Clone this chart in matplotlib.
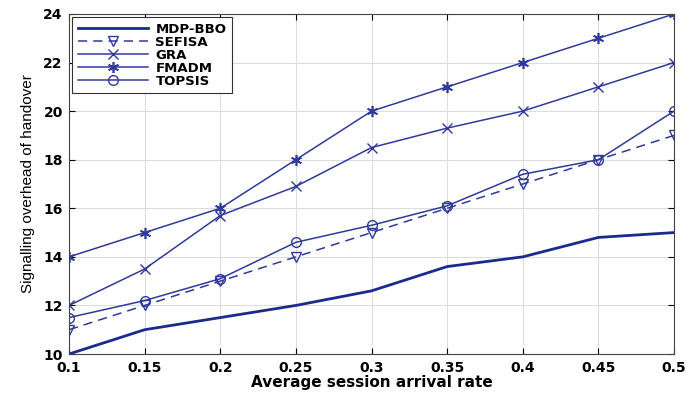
import matplotlib

matplotlib.use("Agg")
import matplotlib.pyplot as plt

X = [0.1, 0.15, 0.2, 0.25, 0.3, 0.35, 0.4, 0.45, 0.5]
MDP_BBO = [10, 11, 11.5, 12, 12.6, 13.6, 14, 14.8, 15]
SEFISA = [11, 12, 13, 14, 15, 16, 17, 18, 19]
GRA = [12, 13.5, 15.7, 16.9, 18.5, 19.3, 20, 21, 22]
FMADM = [14, 15, 16, 18, 20, 21, 22, 23, 24]
TOPSIS = [11.5, 12.2, 13.1, 14.6, 15.3, 16.1, 17.4, 18, 20]

XTICKS = [0.1, 0.15, 0.2, 0.25, 0.3, 0.35, 0.4, 0.45, 0.5]
XTICKLABELS = ["0.1", "0.15", "0.2", "0.25", "0.3", "0.35", "0.4", "0.45", "0.5"]
YTICKS = [10, 12, 14, 16, 18, 20, 22, 24]

BLUE = "#2f3a9a"
NAVY = "#1c2a8e"

plt.rcParams["font.family"] = ["DejaVu Sans"]

fig = plt.figure(figsize=(6.86, 3.94), dpi=100)
ax = fig.add_axes([0.1006, 0.1015, 0.8819, 0.863])

ax.plot(X, MDP_BBO, color=NAVY, lw=2.0, label="MDP-BBO")
ax.plot(X, SEFISA, color=BLUE, lw=1.1, ls=(0, (6, 4)), marker="v", ms=7,
        mfc="none", mew=1.0, label="SEFISA")
ax.plot(X, GRA, color=BLUE, lw=1.1, marker="x", ms=7, mew=1.0, label="GRA")
ax.plot(X, FMADM, color=BLUE, lw=1.1, marker=(6, 2, 0), ms=8, mew=1.2,
        label="FMADM")
ax.plot(X, TOPSIS, color=BLUE, lw=1.1, marker="o", ms=7, mfc="none",
        mew=1.0, label="TOPSIS")

ax.set_xlim(0.1, 0.5)
ax.set_ylim(10, 24)
ax.set_xticks(XTICKS)
ax.set_xticklabels(XTICKLABELS)
ax.set_yticks(YTICKS)
ax.grid(True, color="#dddddd", lw=0.8)
ax.tick_params(direction="in", top=True, right=True, length=4,
               labelsize=10)
ax.tick_params(axis="x", pad=5)
ax.tick_params(axis="y", pad=4.5)
for lab in ax.get_xticklabels() + ax.get_yticklabels():
    lab.set_fontweight("bold")
for s in ax.spines.values():
    s.set_color("#444444")
    s.set_linewidth(0.8)

ax.set_xlabel("Average session arrival rate", fontsize=11, fontweight="bold",
              labelpad=0)
ax.set_ylabel("Signalling overhead of handover", fontsize=11, labelpad=6,
              family=["Liberation Sans"])

leg = ax.legend(loc="upper left", prop={"weight": "bold", "size": 9.5},
                handlelength=5.3, handletextpad=0.6, borderpad=0.4,
                borderaxespad=0.25, labelspacing=0.0,
                fancybox=False, edgecolor="#333333", framealpha=1)
leg.get_frame().set_linewidth(0.8)

fig.savefig("out.png", dpi=100)
